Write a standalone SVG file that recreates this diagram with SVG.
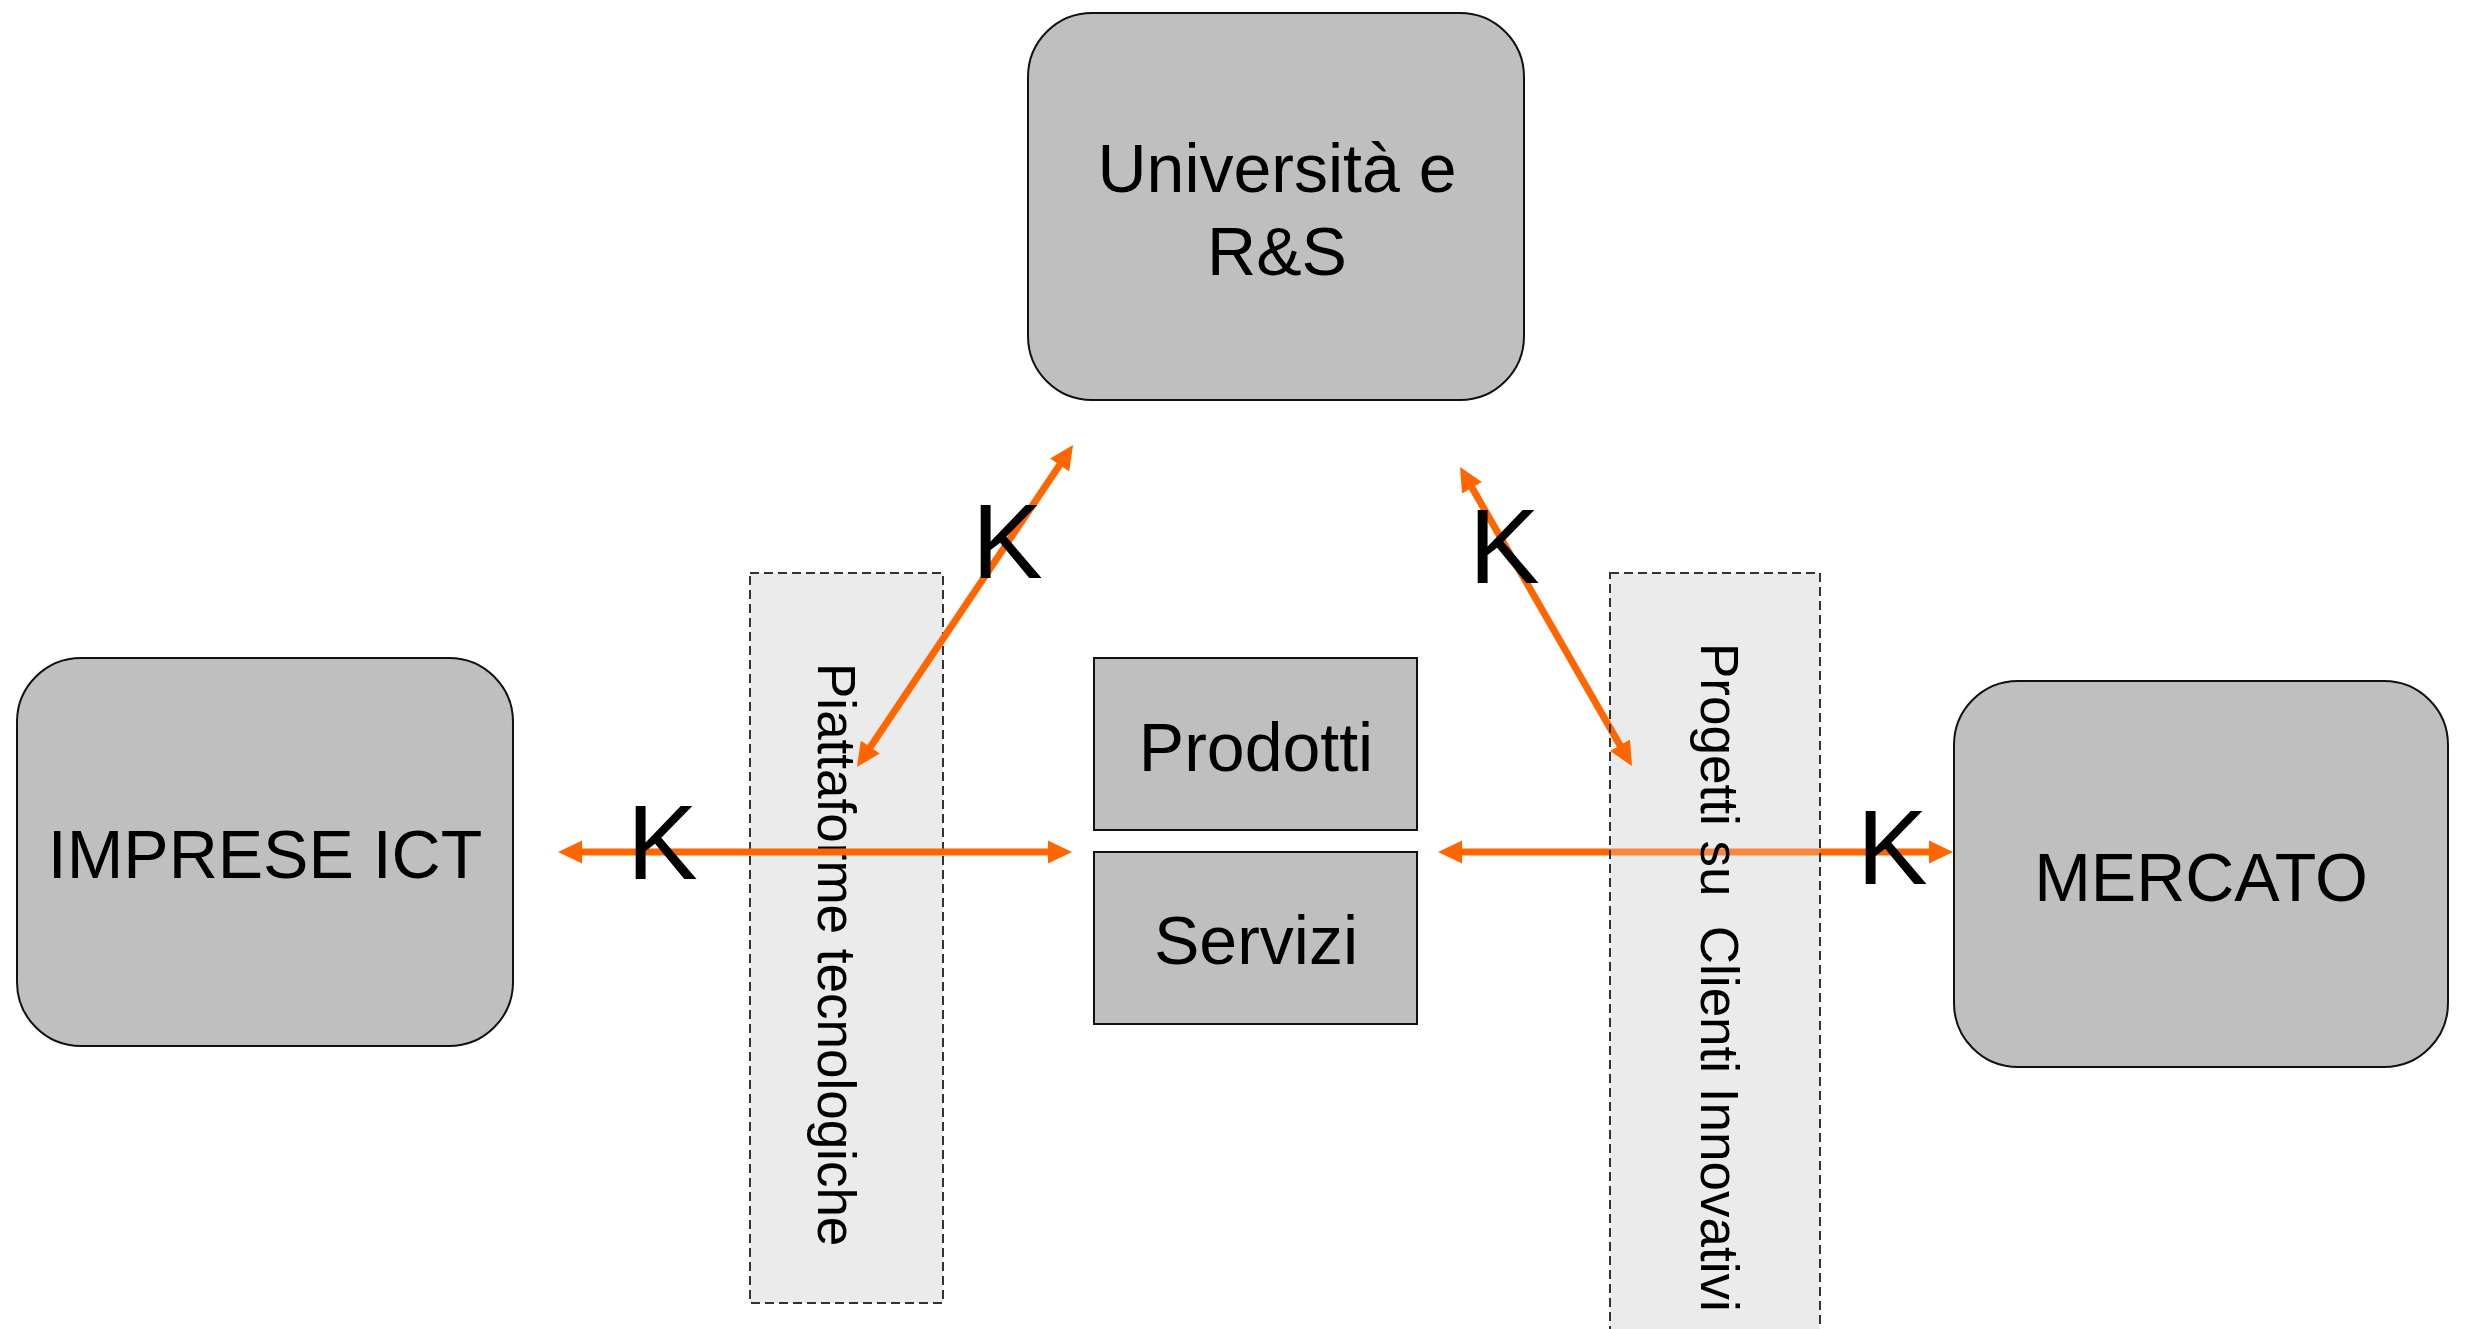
<svg xmlns="http://www.w3.org/2000/svg" width="2465" height="1329" viewBox="0 0 2465 1329">
  <style>
    .box { fill: #bfbfbf; stroke: #111; stroke-width: 2; }
    .band { fill: #ebebeb; stroke: none; }
    .dash { fill: none; stroke: #333; stroke-width: 2; stroke-dasharray: 9 5; }
    .lbl { font-family: "Liberation Sans", Arial, sans-serif; font-size: 68px; fill: #000; text-anchor: middle; }
    .vlbl { font-family: "Liberation Sans", Arial, sans-serif; font-size: 53px; fill: #000; }
    .k { font-family: "Liberation Sans", Arial, sans-serif; font-size: 106px; fill: #000; }
    .conn { stroke: #ff6600; stroke-width: 7; fill: none; marker-start: url(#arr); marker-end: url(#arr); }
  </style>
  <defs>
    <marker id="arr" markerUnits="userSpaceOnUse" markerWidth="24" markerHeight="24" refX="6" refY="12" orient="auto-start-reverse" viewBox="0 0 24 24">
      <path d="M0,0.5 L24,12 L0,23.5 z" fill="#ff6600"/>
    </marker>
  </defs>
  <rect width="2465" height="1329" fill="#ffffff"/>

  <g id="universita">
    <rect class="box" x="1028" y="13" width="496" height="387" rx="64" ry="64"/>
    <text class="lbl" x="1277" y="192">Università e</text>
    <text class="lbl" x="1277" y="275">R&amp;S</text>
  </g>
  <g id="imprese-ict">
    <rect class="box" x="17" y="658" width="496" height="388" rx="64" ry="64"/>
    <text class="lbl" x="265" y="878">IMPRESE ICT</text>
  </g>
  <g id="mercato">
    <rect class="box" x="1954" y="681" width="494" height="386" rx="64" ry="64"/>
    <text class="lbl" x="2201" y="901">MERCATO</text>
  </g>
  <g id="prodotti">
    <rect class="box" x="1094" y="658" width="323" height="172"/>
    <text class="lbl" x="1256" y="771">Prodotti</text>
  </g>
  <g id="servizi">
    <rect class="box" x="1094" y="852" width="323" height="172"/>
    <text class="lbl" x="1256" y="964">Servizi</text>
  </g>
  <g id="piattaforme">
    <rect class="band" x="750" y="573" width="193" height="730"/>
    <rect class="dash" x="750" y="573" width="193" height="730"/>
    <text class="vlbl" transform="translate(818,663) rotate(90)">Piattaforme tecnologiche</text>
  </g>
  <g id="progetti">
    <rect class="band" x="1610" y="573" width="210" height="780"/>
  </g>

  <g id="connectors">
    <line class="conn" x1="576" y1="852" x2="1054" y2="852"/>
    <line class="conn" x1="1456" y1="852" x2="1935" y2="852"/>
    <line class="conn" x1="1063" y1="460" x2="867" y2="752"/>
    <line class="conn" x1="1469" y1="482.6" x2="1623" y2="750.4"/>
  </g>

  <g id="progetti-label">
    <rect x="1610" y="840" width="210" height="25" fill="#ebebeb" fill-opacity="0.25"/>
    <rect class="dash" x="1610" y="573" width="210" height="780"/>
    <text class="vlbl" transform="translate(1701,643) rotate(90)" xml:space="preserve">Progetti su  Clienti Innovativi</text>
  </g>

  <g id="k-labels">
    <text class="k" x="972" y="578">K</text>
    <text class="k" x="1469" y="583">K</text>
    <text class="k" x="627" y="879">K</text>
    <text class="k" x="1857" y="884">K</text>
  </g>
</svg>
